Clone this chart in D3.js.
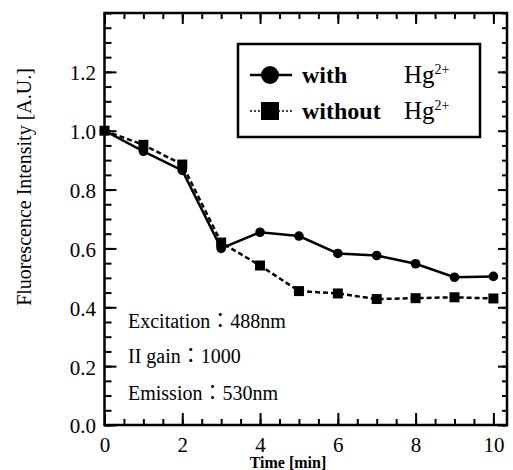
<!DOCTYPE html>
<html>
<head>
<meta charset="utf-8">
<script src="https://cdn.jsdelivr.net/npm/d3@7"></script>
<style>
  body { margin: 0; background: #fff; }
  svg { display: block; }
  text { font-family: "Liberation Serif", "Times New Roman", "Noto Sans CJK JP", serif; fill: #000; }
</style>
</head>
<body>
<svg id="chart" width="513" height="470"></svg>
<script>
// values
var timeMin = [0, 1, 2, 3, 4, 5, 6, 7, 8, 9, 10];
var withHg = [1.0, 0.93, 0.865, 0.60, 0.655, 0.642, 0.583, 0.576, 0.548, 0.502, 0.505];
var withoutHg = [1.0, 0.952, 0.885, 0.62, 0.542, 0.455, 0.447, 0.428, 0.431, 0.434, 0.43];
var xTicks = [0, 2, 4, 6, 8, 10];
var yTicks = [0.0, 0.2, 0.4, 0.6, 0.8, 1.0, 1.2];
var notes = ["Excitation\uff1a488nm", "II gain\uff1a1000", "Emission\uff1a530nm"];

var svg = d3.select('#chart');

var plotL = 104.5, plotR = 507, plotT = 13, plotB = 425;

var x = d3.scaleLinear().domain([0, 10.35]).range([plotL, plotR]);
var y = d3.scaleLinear().domain([0, 1.4]).range([plotB, plotT]);

var xMinor = d3.range(0, 10.01, 0.5);
var yMinor = d3.range(0, 1.401, 0.05);

function styleAxis(g) {
  g.select('.domain').remove();
  g.selectAll('line').attr('stroke', '#000').attr('stroke-width', 2);
}

// minor ticks, all four sides
svg.append('g').attr('transform', 'translate(0,' + plotB + ')')
  .call(d3.axisBottom(x).tickValues(xMinor).tickSize(-6).tickFormat(''))
  .call(styleAxis);
svg.append('g').attr('transform', 'translate(0,' + plotT + ')')
  .call(d3.axisTop(x).tickValues(xMinor).tickSize(-6).tickFormat(''))
  .call(styleAxis);
svg.append('g').attr('transform', 'translate(' + plotL + ',0)')
  .call(d3.axisLeft(y).tickValues(yMinor).tickSize(-7).tickFormat(''))
  .call(styleAxis);
svg.append('g').attr('transform', 'translate(' + plotR + ',0)')
  .call(d3.axisRight(y).tickValues(yMinor).tickSize(-5).tickFormat(''))
  .call(styleAxis);

// major ticks with labels
var xAxis = svg.append('g').attr('transform', 'translate(0,' + plotB + ')')
  .call(d3.axisBottom(x).tickValues(xTicks).tickSize(-12).tickPadding(12).tickFormat(d3.format('d')))
  .call(styleAxis);
xAxis.selectAll('text').attr('font-size', 21).attr('font-family', '"Liberation Serif", serif');

var yAxis = svg.append('g').attr('transform', 'translate(' + plotL + ',0)')
  .call(d3.axisLeft(y).tickValues(yTicks).tickSize(-12).tickPadding(8.5).tickFormat(d3.format('.1f')))
  .call(styleAxis);
yAxis.selectAll('text').attr('font-size', 21).attr('font-family', '"Liberation Serif", serif').attr('dy', '0.38em');

svg.append('g').attr('transform', 'translate(0,' + plotT + ')')
  .call(d3.axisTop(x).tickValues(xTicks).tickSize(-11).tickFormat(''))
  .call(styleAxis);
svg.append('g').attr('transform', 'translate(' + plotR + ',0)')
  .call(d3.axisRight(y).tickValues(yTicks).tickSize(-9).tickFormat(''))
  .call(styleAxis);

// frame
svg.append('rect')
  .attr('x', plotL).attr('y', plotT)
  .attr('width', plotR - plotL).attr('height', plotB - plotT)
  .attr('fill', 'none').attr('stroke', '#000').attr('stroke-width', 2.5);

// axis titles
svg.append('text')
  .attr('transform', 'translate(31,187) rotate(-90)')
  .attr('text-anchor', 'middle')
  .attr('font-size', 20)
  .text('Fluorescence Intensity [A.U.]');

svg.append('text')
  .attr('x', 288).attr('y', 468)
  .attr('text-anchor', 'middle')
  .attr('font-size', 16)
  .attr('font-weight', 'bold')
  .text('Time [min]');

// caption, cut off by the bottom edge
svg.append('text')
  .attr('x', 18).attr('y', 482)
  .attr('font-size', 17)
  .attr('font-weight', 'bold')
  .text('Fig.5 Change of Fluorescence Intensity');

// lines
var line = d3.line()
  .x(function (d, i) { return x(timeMin[i]); })
  .y(function (d) { return y(d); });

svg.append('path').datum(withoutHg)
  .attr('d', line)
  .attr('fill', 'none').attr('stroke', '#000')
  .attr('stroke-width', 2.5).attr('stroke-dasharray', '5,3');

svg.append('path').datum(withHg)
  .attr('d', line)
  .attr('fill', 'none').attr('stroke', '#000')
  .attr('stroke-width', 2.5);

svg.selectAll('rect.sq').data(withoutHg).enter()
  .append('rect').attr('class', 'sq')
  .attr('x', function (d, i) { return x(timeMin[i]) - 5; })
  .attr('y', function (d) { return y(d) - 5; })
  .attr('width', 10).attr('height', 10)
  .attr('fill', '#000');

svg.selectAll('circle.dot').data(withHg).enter()
  .append('circle').attr('class', 'dot')
  .attr('cx', function (d, i) { return x(timeMin[i]); })
  .attr('cy', function (d) { return y(d); })
  .attr('r', 4.8)
  .attr('fill', '#000');

// notes
svg.selectAll('text.note').data(notes).enter()
  .append('text').attr('class', 'note')
  .attr('x', 128)
  .attr('y', function (d, i) { return [328, 363, 400][i]; })
  .attr('font-size', 20)
  .text(function (d) { return d; });

// legend
var lg = svg.append('g');
lg.append('rect')
  .attr('x', 238).attr('y', 44).attr('width', 242).attr('height', 93)
  .attr('fill', '#fff').attr('stroke', '#000').attr('stroke-width', 2.5);

var legendRows = [
  { label: 'with', y: 75, dash: null },
  { label: 'without', y: 111, dash: '2,2' }
];
legendRows.forEach(function (r, i) {
  lg.append('line')
    .attr('x1', 250).attr('x2', 292).attr('y1', r.y).attr('y2', r.y)
    .attr('stroke', '#000').attr('stroke-width', i === 0 ? 2.5 : 1.5)
    .attr('stroke-dasharray', r.dash);
  if (i === 0) {
    lg.append('circle').attr('cx', 270).attr('cy', r.y).attr('r', 9).attr('fill', '#000');
  } else {
    lg.append('rect').attr('x', 261).attr('y', r.y - 9).attr('width', 18).attr('height', 18).attr('fill', '#000');
  }
  lg.append('text')
    .attr('x', 302).attr('y', r.y + 8)
    .attr('font-size', 24).attr('font-weight', 'bold')
    .text(r.label);
  var hg = lg.append('text')
    .attr('x', 404).attr('y', r.y + 8)
    .attr('font-size', 25);
  hg.append('tspan').text('Hg');
  hg.append('tspan').attr('font-size', 14).attr('dy', -9).text('2+');
});
</script>
</body>
</html>
